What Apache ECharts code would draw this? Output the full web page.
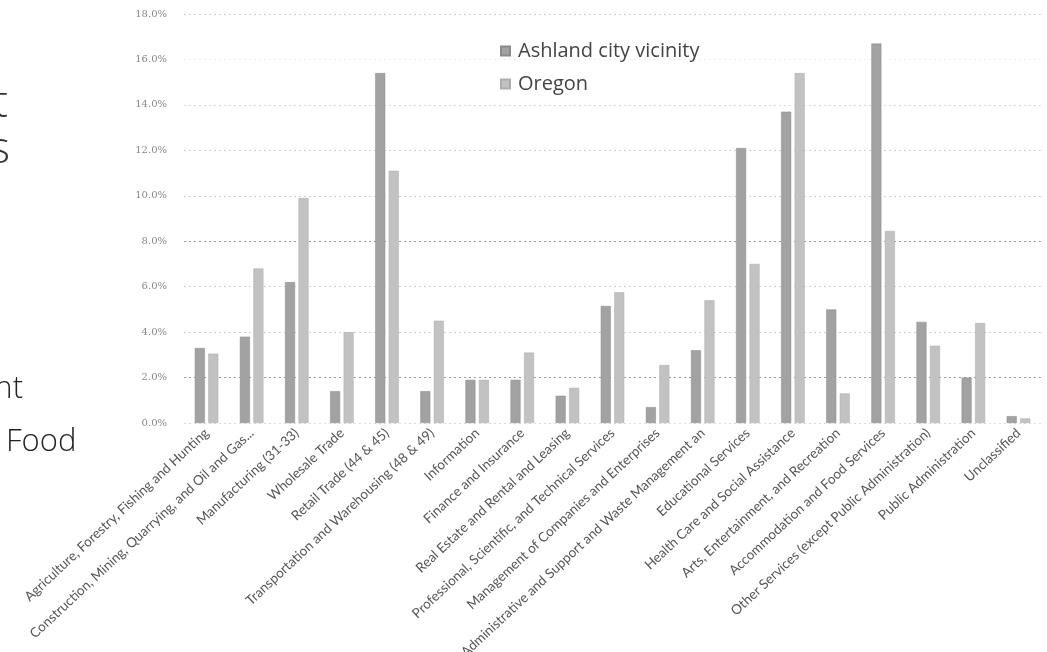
<!DOCTYPE html>
<html>
<head>
<meta charset="utf-8">
<script src="https://cdn.jsdelivr.net/npm/echarts@6/dist/echarts.min.js"></script>
<style>
  html, body { margin: 0; padding: 0; background: #fff; }
  #chart { width: 1047px; height: 652px; }
</style>
</head>
<body>
<div id="chart"></div>
<script>
// Industry categories (labels as shown under the axis)
const industries = [
  'Agriculture, Forestry, Fishing and Hunting',
  'Construction, Mining, Quarrying, and Oil and Gas...',
  'Manufacturing (31-33)',
  'Wholesale Trade',
  'Retail Trade (44 & 45)',
  'Transportation and Warehousing (48 & 49)',
  'Information',
  'Finance and Insurance',
  'Real Estate and Rental and Leasing',
  'Professional, Scientific, and Technical Services',
  'Management of Companies and Enterprises',
  'Administrative and Support and Waste Management an',
  'Educational Services',
  'Health Care and Social Assistance',
  'Arts, Entertainment, and Recreation',
  'Accommodation and Food Services',
  'Other Services (except Public Administration)',
  'Public Administration',
  'Unclassified'
];

// Share of employment by industry, percent
const ashland = [3.3, 3.8, 6.2, 1.4, 15.4, 1.4, 1.9, 1.9, 1.2, 5.15, 0.7, 3.2, 12.1, 13.7, 5.0, 16.7, 4.45, 2.0, 0.3];
const oregon  = [3.05, 6.8, 9.9, 4.0, 11.1, 4.5, 1.9, 3.1, 1.55, 5.75, 2.55, 5.4, 7.0, 15.4, 1.3, 8.45, 3.4, 4.4, 0.2];

const seriesNames = ['Ashland city vicinity', 'Oregon'];
const yMax = 18;
const yStep = 2;

const chart = echarts.init(document.getElementById('chart'), null, { renderer: 'canvas' });

chart.setOption({
  animation: false,
  backgroundColor: '#ffffff',
  grid: { left: 184, right: 6, top: 14, bottom: 229, containLabel: false, outerBoundsMode: 'none' },
  legend: {
    orient: 'vertical',
    left: 495,
    top: 36,
    itemWidth: 9,
    itemHeight: 9,
    itemGap: 13,
    icon: 'rect',
    data: seriesNames,
    textStyle: { fontFamily: 'Open Sans', fontSize: 20, color: '#444', padding: [0, 0, 0, 3] }
  },
  // slide text at the left edge, partly outside the frame
  graphic: [
    { type: 'text', x: 8, y: 126, style: { text: 't', fontFamily: 'Open Sans', fontSize: 44, fontWeight: 300, fill: '#333', align: 'right', verticalAlign: 'bottom' } },
    { type: 'text', x: 10, y: 172, style: { text: 's', fontFamily: 'Open Sans', fontSize: 44, fontWeight: 300, fill: '#333', align: 'right', verticalAlign: 'bottom' } },
    { type: 'text', x: 23, y: 405, style: { text: 'nt', fontFamily: 'Open Sans', fontSize: 31, fontWeight: 300, fill: '#222', align: 'right', verticalAlign: 'bottom' } },
    { type: 'text', x: 6, y: 458, style: { text: 'Food', fontFamily: 'Open Sans', fontSize: 31, fontWeight: 300, fill: '#222', align: 'left', verticalAlign: 'bottom' } }
  ],
  xAxis: {
    type: 'category',
    data: industries,
    axisLine: { show: false },
    axisTick: { show: false },
    axisLabel: {
      interval: 0,
      rotate: 43,
      margin: 8,
      fontFamily: 'Lato',
      fontSize: 13.5,
      color: '#555'
    }
  },
  yAxis: {
    type: 'value',
    min: 0,
    max: yMax,
    interval: yStep,
    axisLine: { show: false },
    axisTick: { show: false },
    axisLabel: {
      margin: 17,
      fontFamily: 'DejaVu Serif',
      fontSize: 10,
      color: '#888',
      formatter: v => v.toFixed(1) + '%'
    },
    splitLine: {
      lineStyle: {
        type: [2, 3],
        width: 1,
        color: ['#dcdcdc', '#9a9a9a', '#d0d0d0', '#d0d0d0', '#9a9a9a', '#d0d0d0', '#d0d0d0', '#d8d8d8', '#eeeeee', '#d0d0d0']
      }
    }
  },
  series: [
    {
      name: seriesNames[0],
      type: 'bar',
      data: ashland,
      barWidth: 10,
      barGap: '35%',
      itemStyle: { color: '#a2a2a2', borderColor: '#8a8a8a', borderWidth: 0.5 }
    },
    {
      name: seriesNames[1],
      type: 'bar',
      data: oregon,
      barWidth: 10,
      itemStyle: { color: '#c2c2c2', borderColor: '#adadad', borderWidth: 0.5 }
    }
  ]
});
</script>
</body>
</html>
